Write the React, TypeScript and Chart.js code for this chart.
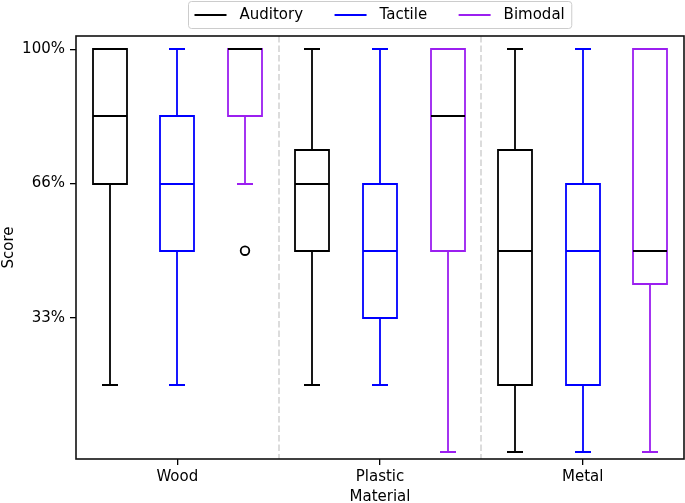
import React, { useEffect, useRef } from 'react';
import { Chart, registerables } from 'chart.js';

Chart.register(...registerables);

const CATEGORIES = ['Wood', 'Plastic', 'Metal'];
const SERIES = ['Auditory', 'Tactile', 'Bimodal'];
const SERIES_COLORS = ['#000000', '#0000ff', '#9b1ff0'];
const MEDIAN_COLORS = ['#000000', '#0000ff', '#000000'];

// Box statistics per category (Wood, Plastic, Metal)
const AUDITORY_MIN = [0.1667, 0.1667, 0.0];
const AUDITORY_Q1 = [0.6667, 0.5, 0.1667];
const AUDITORY_MEDIAN = [0.8333, 0.6667, 0.5];
const AUDITORY_Q3 = [1.0, 0.75, 0.75];
const AUDITORY_MAX = [1.0, 1.0, 1.0];
const AUDITORY_OUTLIERS: number[][] = [[], [], []];

const TACTILE_MIN = [0.1667, 0.1667, 0.0];
const TACTILE_Q1 = [0.5, 0.3333, 0.1667];
const TACTILE_MEDIAN = [0.6667, 0.5, 0.5];
const TACTILE_Q3 = [0.8333, 0.6667, 0.6667];
const TACTILE_MAX = [1.0, 1.0, 1.0];
const TACTILE_OUTLIERS: number[][] = [[], [], []];

const BIMODAL_MIN = [0.6667, 0.0, 0.0];
const BIMODAL_Q1 = [0.8333, 0.5, 0.4167];
const BIMODAL_MEDIAN = [1.0, 0.8333, 0.5];
const BIMODAL_Q3 = [1.0, 1.0, 1.0];
const BIMODAL_MAX = [1.0, 1.0, 1.0];
const BIMODAL_OUTLIERS: number[][] = [[0.5], [], []];

const Y_TICK_VALUES = [0.3333, 0.6667, 1.0];
const Y_TICK_LABELS = ['33%', '66%', '100%'];
const Y_MIN = -0.017;
const Y_MAX = 1.033;

const X_TITLE = 'Material';
const Y_TITLE = 'Score';

const STATS = [
  { min: AUDITORY_MIN, q1: AUDITORY_Q1, med: AUDITORY_MEDIAN, q3: AUDITORY_Q3, max: AUDITORY_MAX, out: AUDITORY_OUTLIERS },
  { min: TACTILE_MIN, q1: TACTILE_Q1, med: TACTILE_MEDIAN, q3: TACTILE_Q3, max: TACTILE_MAX, out: TACTILE_OUTLIERS },
  { min: BIMODAL_MIN, q1: BIMODAL_Q1, med: BIMODAL_MEDIAN, q3: BIMODAL_Q3, max: BIMODAL_MAX, out: BIMODAL_OUTLIERS },
];

const FONT_FAMILY = "'DejaVu Sans', sans-serif";
const FONT_SIZE = 15;
const LW = 1.8;

const boxPlugin = {
  id: 'boxParts',
  beforeDatasetsDraw(chart: any) {
    const { ctx, chartArea, scales } = chart;
    const xs = scales.x;
    ctx.save();
    ctx.strokeStyle = '#d9d9d9';
    ctx.lineWidth = 1.8;
    ctx.setLineDash([6.5, 3]);
    for (let i = 0; i < CATEGORIES.length - 1; i++) {
      const px = Math.round((xs.getPixelForValue(i) + xs.getPixelForValue(i + 1)) / 2);
      ctx.beginPath();
      ctx.moveTo(px, chartArea.top);
      ctx.lineTo(px, chartArea.bottom);
      ctx.stroke();
    }
    ctx.restore();
  },
  afterDatasetsDraw(chart: any) {
    const { ctx, scales } = chart;
    const ys = scales.y;
    const R = Math.round;
    ctx.save();
    ctx.lineWidth = LW;
    ctx.setLineDash([]);
    ctx.lineCap = 'butt';
    STATS.forEach((s, d) => {
      const meta = chart.getDatasetMeta(d);
      meta.data.forEach((el: any, i: number) => {
        const { x: cxRaw, width } = el.getProps(['x', 'width'], true);
        const cx = R(cxRaw);
        const half = width / 2;
        const capHalf = width / 4;
        const pMin = R(ys.getPixelForValue(s.min[i]));
        const pQ1 = R(ys.getPixelForValue(s.q1[i]));
        const pMed = R(ys.getPixelForValue(s.med[i]));
        const pQ3 = R(ys.getPixelForValue(s.q3[i]));
        const pMax = R(ys.getPixelForValue(s.max[i]));
        const bl = R(cx - half);
        const br = R(cx + half);
        ctx.strokeStyle = SERIES_COLORS[d];
        // box
        ctx.beginPath();
        ctx.rect(bl, pQ3, br - bl, pQ1 - pQ3);
        ctx.stroke();
        ctx.beginPath();
        // whiskers
        ctx.moveTo(cx, pQ1);
        ctx.lineTo(cx, pMin);
        ctx.moveTo(cx, pQ3);
        ctx.lineTo(cx, pMax);
        // caps
        ctx.moveTo(R(cx - capHalf), pMin);
        ctx.lineTo(R(cx + capHalf), pMin);
        ctx.moveTo(R(cx - capHalf), pMax);
        ctx.lineTo(R(cx + capHalf), pMax);
        ctx.stroke();
        // median
        ctx.strokeStyle = MEDIAN_COLORS[d];
        ctx.beginPath();
        ctx.moveTo(bl, pMed);
        ctx.lineTo(br, pMed);
        ctx.stroke();
        // outliers
        ctx.strokeStyle = '#000000';
        s.out[i].forEach((v: number) => {
          ctx.beginPath();
          ctx.arc(cx, ys.getPixelForValue(v), 4.3, 0, Math.PI * 2);
          ctx.stroke();
        });
      });
    });
    ctx.restore();
  },
  afterDraw(chart: any) {
    const { ctx, chartArea } = chart;
    ctx.save();
    // axes frame
    ctx.strokeStyle = '#111111';
    ctx.lineWidth = 1.6;
    ctx.strokeRect(chartArea.left, chartArea.top, chartArea.right - chartArea.left, chartArea.bottom - chartArea.top);

    // legend
    ctx.font = `${FONT_SIZE}px ${FONT_FAMILY}`;
    const padL = 6, padR = 7, lineLen = 32, gapText = 13, itemGap = 31.5;
    const widths = SERIES.map((t) => ctx.measureText(t).width);
    let total = padL + padR + SERIES.length * (lineLen + gapText) + (SERIES.length - 1) * itemGap;
    widths.forEach((w) => (total += w));
    const cxArea = (chartArea.left + chartArea.right) / 2;
    const left = Math.round(cxArea - total / 2) + 0.5;
    const top = 1.5;
    const h = 27;
    const r = 3;
    ctx.beginPath();
    ctx.moveTo(left + r, top);
    ctx.lineTo(left + total - r, top);
    ctx.arcTo(left + total, top, left + total, top + r, r);
    ctx.lineTo(left + total, top + h - r);
    ctx.arcTo(left + total, top + h, left + total - r, top + h, r);
    ctx.lineTo(left + r, top + h);
    ctx.arcTo(left, top + h, left, top + h - r, r);
    ctx.lineTo(left, top + r);
    ctx.arcTo(left, top, left + r, top, r);
    ctx.closePath();
    ctx.fillStyle = 'rgba(255,255,255,0.8)';
    ctx.fill();
    ctx.strokeStyle = '#cccccc';
    ctx.lineWidth = 1;
    ctx.stroke();

    let x = left + padL;
    const yMid = 15;
    SERIES.forEach((t, d) => {
      ctx.strokeStyle = SERIES_COLORS[d];
      ctx.lineWidth = 2;
      ctx.beginPath();
      ctx.moveTo(x, yMid);
      ctx.lineTo(x + lineLen, yMid);
      ctx.stroke();
      x += lineLen + gapText;
      ctx.fillStyle = '#000000';
      ctx.textAlign = 'left';
      ctx.textBaseline = 'middle';
      ctx.fillText(t, x, yMid);
      x += widths[d] + itemGap;
    });
    ctx.restore();
  },
};

export default function App() {
  const ref = useRef<HTMLCanvasElement>(null);
  useEffect(() => {
    if (!ref.current) return;
    const chart = new Chart(ref.current, {
      type: 'bar',
      data: {
        labels: CATEGORIES,
        datasets: SERIES.map((name, d) => ({
          label: name,
          data: CATEGORIES.map((_, i) => [STATS[d].q1[i], STATS[d].q3[i]]),
          backgroundColor: 'rgba(0,0,0,0)',
          borderColor: SERIES_COLORS[d],
          borderWidth: 0,
          borderSkipped: false,
          inflateAmount: 0,
          categoryPercentage: 1.0,
          barPercentage: 0.5,
        })) as any,
      },
      options: {
        responsive: false,
        animation: false,
        devicePixelRatio: 1,
        events: [],
        layout: { padding: { top: 36, right: 1, left: 0, bottom: 0 } },
        plugins: {
          legend: { display: false },
          tooltip: { enabled: false },
        },
        scales: {
          x: {
            type: 'category',
            offset: true,
            grid: { display: true, drawOnChartArea: false, offset: false, color: '#000000', lineWidth: 1.3, tickLength: 6 },
            border: { display: false },
            ticks: { color: '#000000', font: { family: FONT_FAMILY, size: FONT_SIZE }, padding: 3, maxRotation: 0 },
            title: { display: true, text: X_TITLE, color: '#000000', font: { family: FONT_FAMILY, size: FONT_SIZE }, padding: { top: 0, bottom: -3 } },
            afterFit: (scale: any) => { scale.height = 44; },
          },
          y: {
            type: 'linear',
            min: Y_MIN,
            max: Y_MAX,
            grid: { display: true, drawOnChartArea: false, color: '#000000', lineWidth: 1.3, tickLength: 6 },
            border: { display: false },
            ticks: {
              color: '#000000',
              font: { family: FONT_FAMILY, size: FONT_SIZE },
              padding: 5,
              callback: (_v: any, index: number) => Y_TICK_LABELS[index],
            },
            afterBuildTicks: (scale: any) => { scale.ticks = Y_TICK_VALUES.map((v) => ({ value: v })); },
            title: { display: true, text: Y_TITLE, color: '#000000', font: { family: FONT_FAMILY, size: FONT_SIZE }, padding: { top: 0, bottom: 0 } },
            afterFit: (scale: any) => { scale.width = 76; },
          },
        },
      } as any,
      plugins: [boxPlugin],
    });
    return () => chart.destroy();
  }, []);
  return (
    <div style={{ position: 'absolute', left: 0, top: 0, width: 685, height: 503, background: '#ffffff' }}>
      <canvas ref={ref} width={685} height={503} style={{ display: 'block', width: 685, height: 503 }} />
    </div>
  );
}
